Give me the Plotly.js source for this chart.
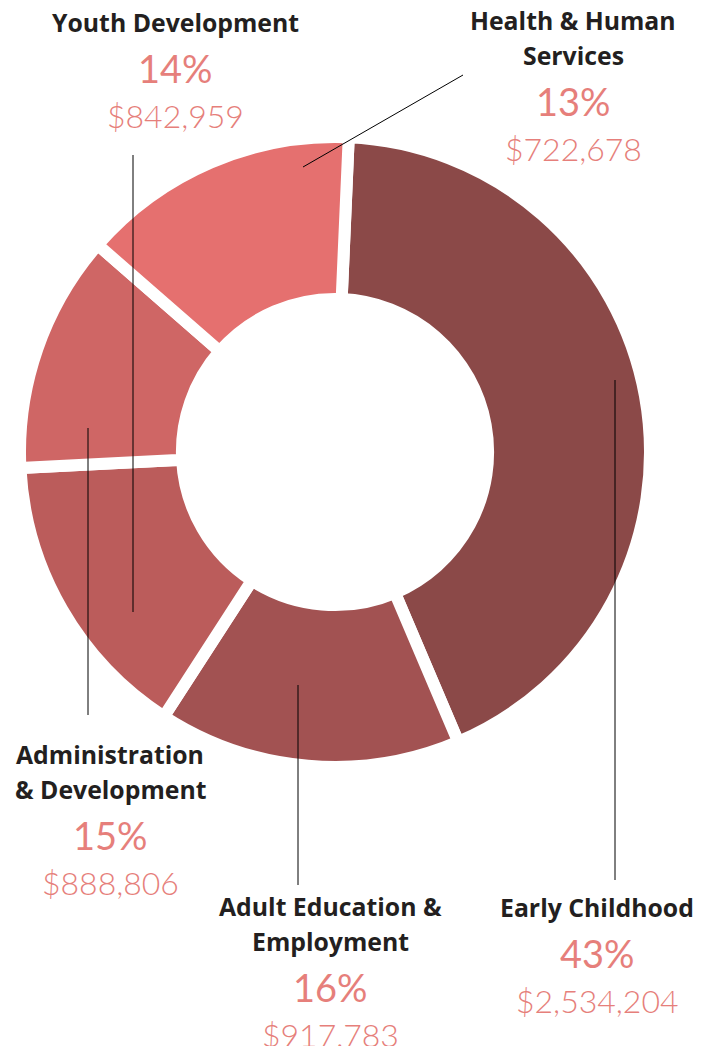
<!DOCTYPE html>
<html>
<head>
<meta charset="utf-8">
<script src="https://cdn.plot.ly/plotly-3.0.1.min.js"></script>
<style>html,body{margin:0;padding:0;background:#fff}#chart{width:715px;height:1046px}</style>
</head>
<body>
<div id="chart"></div>
<script>
// ---- data ----
const categories = ["Early Childhood", "Adult Education & Employment", "Administration & Development", "Health & Human Services", "Youth Development"];
const amounts = [2534204, 917783, 888806, 722678, 842959];
const percentLabels = ["43%", "16%", "15%", "13%", "14%"];
const amountLabels = ["$2,534,204", "$917,783", "$888,806", "$722,678", "$842,959"];
const nameLines = [["Early Childhood"], ["Adult Education &", "Employment"], ["Administration", "& Development"], ["Health & Human", "Services"], ["Youth Development"]];
const sliceColors = ["#8B4948", "#A25252", "#BB5C5B", "#CF6665", "#E5706F"];

// ---- layout helpers (pixel positions of label blocks) ----
const W = 715, H = 1046;
const px = x => x / W;
const py = y => 1 - y / H;
// label block: centre x, baseline of first name line
const blocks = [
  {x: 597, y: 915},
  {x: 330, y: 914},
  {x: 110, y: 762},
  {x: 573, y: 28},
  {x: 175, y: 30}
];
const leaders = [
  [615, 380, 615, 880],
  [298, 685, 298, 885],
  [88, 428, 88, 715],
  [463, 75, 303, 167],
  [133, 155, 133, 612]
];

const NAME = 24.8, PCT = 38, AMT = 32;
const ink = "#231F20", pink = "#E67F7B";
const annotations = [];
function addText(text, x, baseline, size, color, weight, family) {
  annotations.push({
    text: text, xref: "paper", yref: "paper",
    x: px(x), y: py(baseline - size * 0.34),
    xanchor: "center", yanchor: "middle", showarrow: false,
    font: {family: family, size: size, color: color, weight: weight}
  });
}
blocks.forEach((b, i) => {
  let y = b.y;
  nameLines[i].forEach((ln, k) => {
    addText(ln, b.x, y, NAME, ink, 700, "Open Sans, sans-serif");
    if (k < nameLines[i].length - 1) y += 35;
  });
  y += 51;
  addText(percentLabels[i], b.x, y, PCT, pink, 400, "Lato, sans-serif");
  y += 45;
  addText(amountLabels[i], b.x, y, AMT, pink, 300, "Lato, sans-serif");
});

const shapes = leaders.map(l => ({
  type: "line", xref: "paper", yref: "paper",
  x0: px(l[0]), y0: py(l[1]), x1: px(l[2]), y1: py(l[3]),
  line: {color: "#000", width: 1}
}));

const cx = 335, cy = 452, R = 315;
const trace = {
  type: "pie",
  labels: categories,
  values: amounts,
  sort: false,
  direction: "clockwise",
  rotation: 2.5,
  hole: 0.486,
  textinfo: "none",
  hoverinfo: "label+value+percent",
  marker: {colors: sliceColors, line: {color: "#ffffff", width: 12}},
  domain: {x: [px(cx - R), px(cx + R)], y: [py(cy + R), py(cy - R)]},
  showlegend: false
};

Plotly.newPlot("chart", [trace], {
  width: W, height: H,
  margin: {l: 0, r: 0, t: 0, b: 0},
  paper_bgcolor: "#fff",
  showlegend: false,
  annotations: annotations,
  shapes: shapes
}, {displayModeBar: false, staticPlot: true});
</script>
</body>
</html>
